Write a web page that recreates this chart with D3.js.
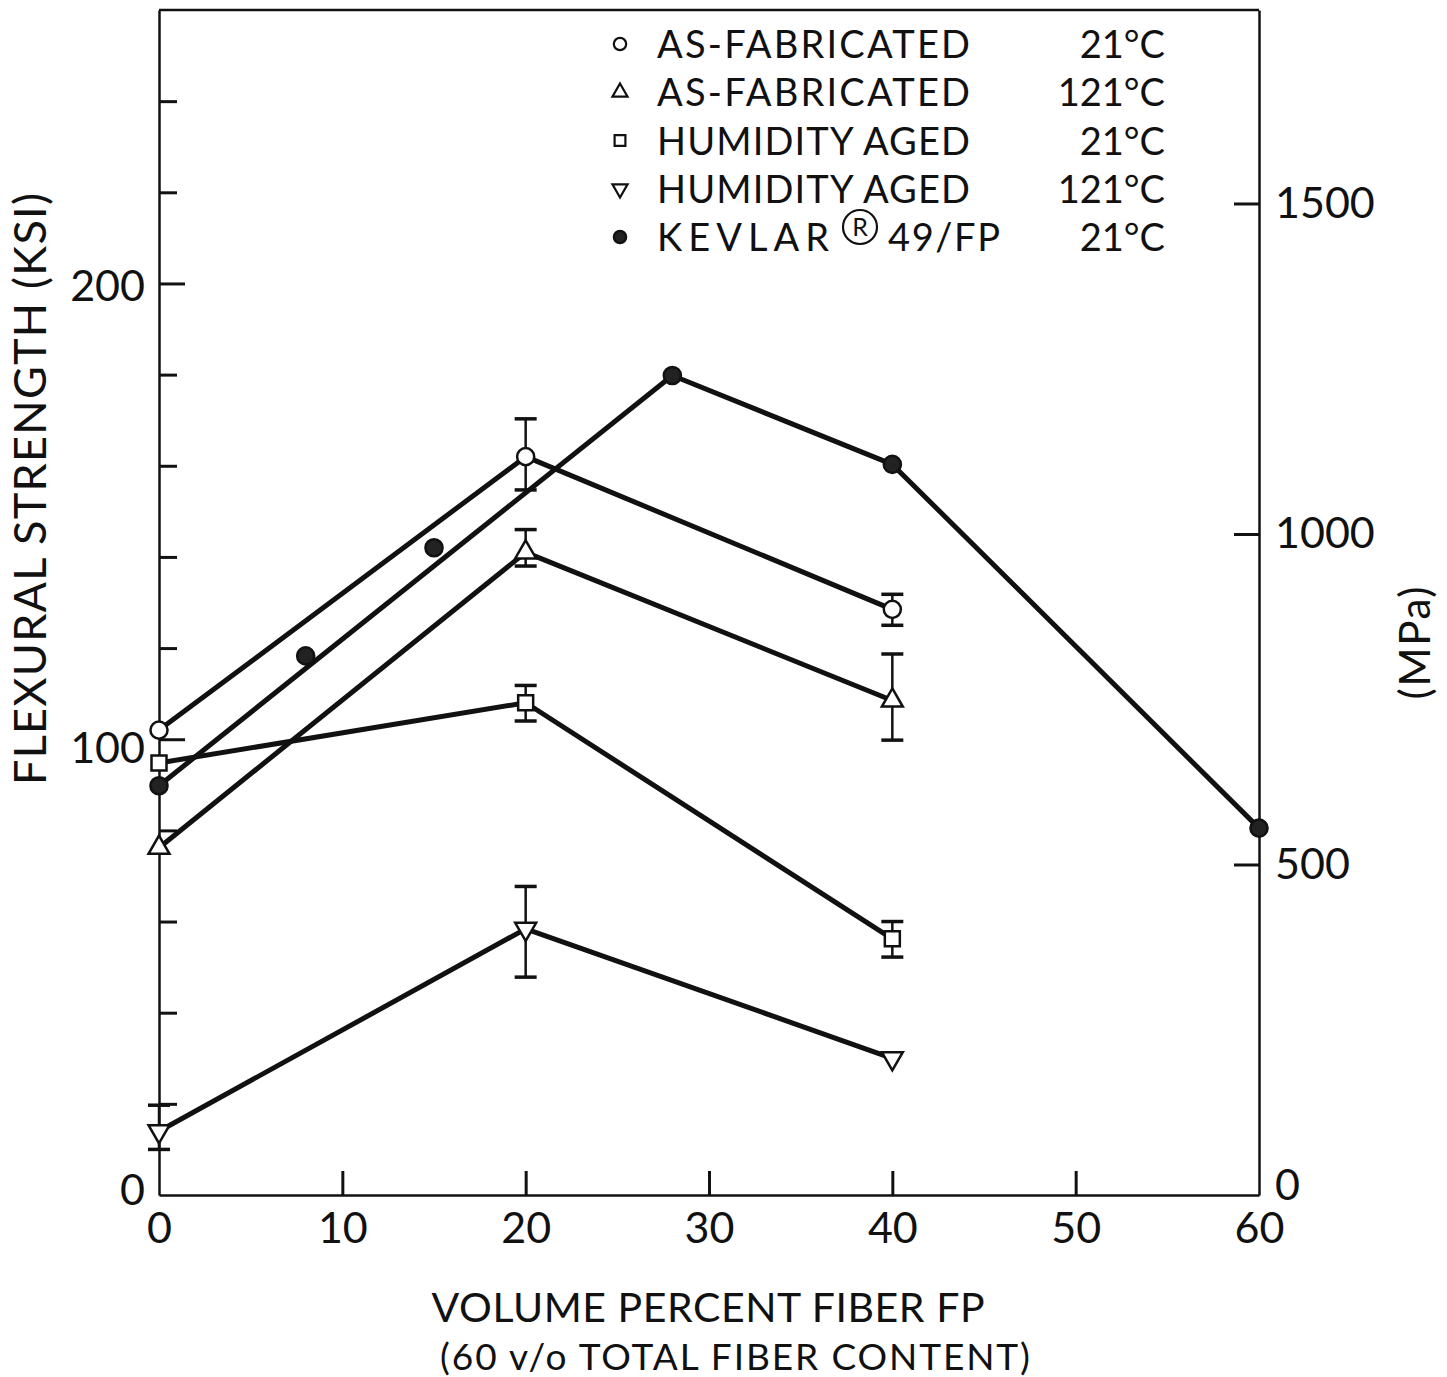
<!DOCTYPE html>
<html>
<head>
<meta charset="utf-8">
<script src="https://cdn.jsdelivr.net/npm/d3@7"></script>
<style>
  body { margin: 0; background: #fff; }
  text { font-family: Lato, "DejaVu Sans", sans-serif; font-weight: 400; fill: #111; }
</style>
</head>
<body>
<svg id="chart" width="1447" height="1377"></svg>
<script>
// volume percent fiber FP (x) and flexural strength in KSI (y)
var fiberFP = [0, 20, 40];

var asFab21   = [102, 162, 128.5];
var asFab21Lo = [null, 154.7, 125];
var asFab21Hi = [null, 170.3, 131.8];

var asFab121   = [76.2, 141, 108.5];
var asFab121Lo = [null, 138, 99.8];
var asFab121Hi = [null, 146, 118.7];

var humid21   = [94.8, 108, 56.2];
var humid21Lo = [null, 104, 52.2];
var humid21Hi = [null, 111.8, 60];

var humid121   = [14, 58.4, 30];
var humid121Lo = [10, 47.8, null];
var humid121Hi = [19.7, 67.7, null];

var kevlarFP = [0, 8, 15, 28, 40, 60];
var kevlar21 = [89.8, 118.3, 142, 179.8, 160.3, 80.5];
var kevlarOnLine = [true, false, false, true, true, true];

var xTicks = [0, 10, 20, 30, 40, 50, 60];
var ksiTicks = [0, 20, 40, 60, 80, 100, 120, 140, 160, 180, 200, 220, 240];
var ksiLabels = [0, 100, 200];
var mpaTicks = [0, 500, 1000, 1500];

var legendLabels = ["AS-FABRICATED", "AS-FABRICATED", "HUMIDITY AGED", "HUMIDITY AGED", "KEVLAR\u00AE49/FP"];
var legendTemps = ["21°C", "121°C", "21°C", "121°C", "21°C"];

var KSI_TO_MPA = 6.895;

var svg = d3.select("#chart");

var x = d3.scaleLinear().domain([0, 60]).range([159, 1259]);
var y = d3.scaleLinear().domain([0, 260]).range([1195, 10]);
var yMpa = d3.scaleLinear().domain([0, 260 * KSI_TO_MPA]).range([1195, 10]);

var series = [
    { x: fiberFP, y: asFab21, lo: asFab21Lo, hi: asFab21Hi, sym: "circle" },
    { x: fiberFP, y: asFab121, lo: asFab121Lo, hi: asFab121Hi, sym: "up" },
    { x: fiberFP, y: humid21, lo: humid21Lo, hi: humid21Hi, sym: "square" },
    { x: fiberFP, y: humid121, lo: humid121Lo, hi: humid121Hi, sym: "down" },
    { x: kevlarFP, y: kevlar21, lo: [], hi: [], sym: "dot", onLine: kevlarOnLine }
];

// marker shape paths
function symbolPath(sym, scale) {
    var s = scale || 1;
    if (sym == "circle" || sym == "dot") return d3.symbol(d3.symbolCircle, 230 * s * s)();
    if (sym == "square") return d3.symbol(d3.symbolSquare, 225 * s * s)();
    return d3.symbol(d3.symbolTriangle, 190 * s * s)();
}
function symbolTransform(sym, px, py) {
    return "translate(" + px + "," + py + ")" + (sym == "down" ? " rotate(180)" : "");
}

// axes
var axisStyle = function (g) {
    g.select(".domain").attr("stroke", "#111").attr("stroke-width", 2.5);
    g.selectAll(".tick line").attr("stroke", "#111").attr("stroke-width", 3);
    g.selectAll("text").style("font-size", "43px").attr("fill", "#111");
};

svg.append("g")
    .attr("transform", "translate(0," + y(0) + ")")
    .call(d3.axisBottom(x).tickValues(xTicks).tickSizeInner(-24).tickSizeOuter(0).tickPadding(17))
    .call(axisStyle)
    .call(g => g.selectAll(".tick line").filter(d => d == 0 || d == 60).remove());

svg.append("g")
    .attr("transform", "translate(" + x(0) + ",0)")
    .call(d3.axisLeft(y).tickValues(ksiTicks).tickSizeInner(-18).tickSizeOuter(0).tickPadding(14)
        .tickFormat(d => ksiLabels.indexOf(d) >= 0 ? d : ""))
    .call(axisStyle)
    .call(g => g.selectAll(".tick line").filter(d => d == 100 || d == 200).attr("x2", 26))
    .call(g => g.selectAll(".tick line").filter(d => d == 0).remove())
    .call(g => g.selectAll("text").attr("dy", d => d == 100 ? "0.55em" : (d == 0 ? "0.22em" : "0.4em")));

svg.append("g")
    .attr("transform", "translate(" + x(60) + ",0)")
    .call(d3.axisRight(yMpa).tickValues(mpaTicks).tickSizeInner(-25).tickSizeOuter(0).tickPadding(16)
        .tickFormat(d3.format("d")))
    .call(axisStyle)
    .call(g => g.selectAll(".tick line").filter(d => d == 0).remove())
    .call(g => g.selectAll("text").filter(d => d == 0).attr("dy", "0.1em"));

// top of the frame
svg.append("line")
    .attr("x1", x(0)).attr("x2", x(60))
    .attr("y1", y.range()[1]).attr("y2", y.range()[1])
    .attr("stroke", "#111").attr("stroke-width", 2.5);

// connecting lines
var line = d3.line().x(d => x(d[0])).y(d => y(d[1]));
series.forEach(function (s) {
    var pts = s.x.map((v, i) => [v, s.y[i]]).filter((p, i) => !s.onLine || s.onLine[i]);
    svg.append("path").attr("d", line(pts))
        .attr("fill", "none").attr("stroke", "#111").attr("stroke-width", 5)
        .attr("stroke-linejoin", "round");
});

// error bars
series.forEach(function (s) {
    s.x.forEach(function (v, i) {
        if (s.lo[i] == null || s.hi[i] == null) return;
        var g = svg.append("g").attr("stroke", "#111");
        g.append("line").attr("x1", x(v)).attr("x2", x(v))
            .attr("y1", y(s.lo[i])).attr("y2", y(s.hi[i])).attr("stroke-width", 2.5);
        [s.lo[i], s.hi[i]].forEach(function (e) {
            g.append("line").attr("x1", x(v) - 11).attr("x2", x(v) + 11)
                .attr("y1", y(e)).attr("y2", y(e)).attr("stroke-width", 3.5);
        });
    });
});

// markers
series.forEach(function (s) {
    svg.append("g").selectAll("path").data(s.x.map((v, i) => [v, s.y[i]])).enter().append("path")
        .attr("d", symbolPath(s.sym))
        .attr("transform", d => symbolTransform(s.sym, x(d[0]), y(d[1])))
        .attr("fill", s.sym == "dot" ? "#222" : "#fff")
        .attr("stroke", "#111").attr("stroke-width", 2.5);
});

// axis titles
svg.append("text")
    .attr("transform", "translate(46,489) rotate(-90)")
    .attr("text-anchor", "middle")
    .attr("textLength", 592).attr("lengthAdjust", "spacing")
    .style("font-size", "45px")
    .text("FLEXURAL STRENGTH (KSI)");

svg.append("text")
    .attr("transform", "translate(1430,643) rotate(-90)")
    .attr("text-anchor", "middle")
    .attr("textLength", 113).attr("lengthAdjust", "spacing")
    .style("font-size", "42px")
    .text("(MPa)");

svg.append("text")
    .attr("x", 708).attr("y", 1322)
    .attr("text-anchor", "middle")
    .attr("textLength", 553).attr("lengthAdjust", "spacing")
    .style("font-size", "41px")
    .text("VOLUME PERCENT FIBER FP");

svg.append("text")
    .attr("x", 735).attr("y", 1370)
    .attr("text-anchor", "middle")
    .attr("textLength", 590).attr("lengthAdjust", "spacing")
    .style("font-size", "37px")
    .text("(60 v/o TOTAL FIBER CONTENT)");

// legend
var legY = d3.scaleLinear().domain([0, 4]).range([44, 237]);
var legend = svg.append("g");
legendLabels.forEach(function (lab, i) {
    var cy = legY(i);
    var sym = series[i].sym;
    legend.append("path")
        .attr("d", symbolPath(sym, 0.72))
        .attr("transform", symbolTransform(sym, 620, cy))
        .attr("fill", sym == "dot" ? "#222" : "#fff")
        .attr("stroke", "#111").attr("stroke-width", 2.2);

    var parts = lab.split("\u00AE");
    if (parts.length == 1) {
        legend.append("text").attr("x", 657).attr("y", cy + 14)
            .attr("textLength", lab.length > 13 ? 338 : 313).attr("lengthAdjust", "spacing")
            .style("font-size", "38px").text(lab);
    } else {
        legend.append("text").attr("x", 657).attr("y", cy + 14)
            .attr("textLength", 172).attr("lengthAdjust", "spacing")
            .style("font-size", "38px").text(parts[0]);
        // registered mark: ring with a small R, raised
        legend.append("circle").attr("cx", 860).attr("cy", cy - 10).attr("r", 17)
            .attr("fill", "none").attr("stroke", "#111").attr("stroke-width", 2.2);
        legend.append("text").attr("x", 860).attr("y", cy - 1)
            .attr("text-anchor", "middle")
            .style("font-size", "25px").text("R");
        legend.append("text").attr("x", 888).attr("y", cy + 14)
            .attr("textLength", 112).attr("lengthAdjust", "spacing")
            .style("font-size", "38px").text(parts[1]);
    }
    legend.append("text").attr("x", 1165).attr("y", cy + 14)
        .attr("text-anchor", "end")
        .style("font-size", "38px").text(legendTemps[i]);
});
</script>
</body>
</html>
